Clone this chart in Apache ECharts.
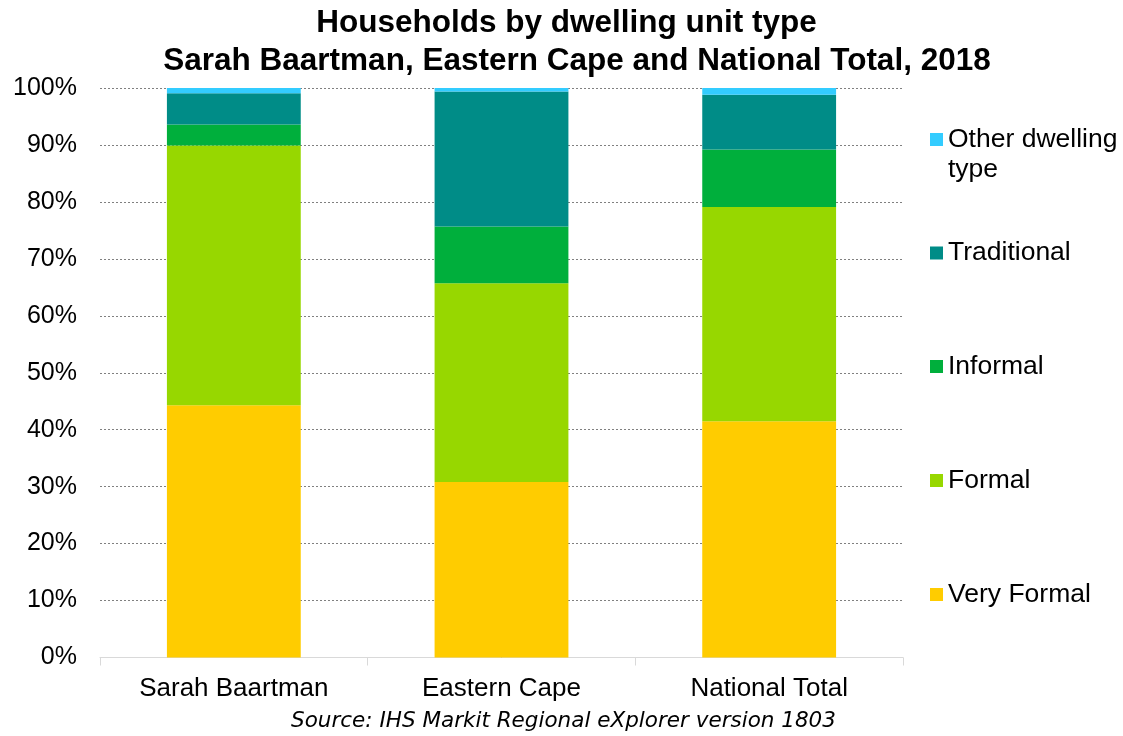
<!DOCTYPE html>
<html>
<head>
<meta charset="utf-8">
<script src="https://cdn.jsdelivr.net/npm/echarts@6/dist/echarts.min.js"></script>
<style>html,body{margin:0;padding:0;background:#fff}#c{width:1123px;height:736px}</style>
</head>
<body>
<div id="c"></div>
<script>
var categories = ['Sarah Baartman', 'Eastern Cape', 'National Total'];
var veryFormal = [44.3, 30.8, 41.5];
var formal = [45.6, 34.9, 37.6];
var informal = [3.7, 10.0, 10.1];
var traditional = [5.5, 23.7, 9.6];
var other = [0.9, 0.6, 1.2];
var seriesNames = ['Very Formal', 'Formal', 'Informal', 'Traditional', 'Other dwelling type'];
var seriesColors = ['#FFCC00', '#97D700', '#00AF3C', '#008C87', '#33CCFF'];
var seriesData = [veryFormal, formal, informal, traditional, other];
var titleLines = ['Households by dwelling unit type', 'Sarah Baartman, Eastern Cape and National Total, 2018'];
var sourceText = 'Source: IHS Markit Regional eXplorer version 1803';

var chart = echarts.init(document.getElementById('c'));
var font = 'Liberation Sans';

var legendTops = {'Other dwelling type': 94.5, 'Traditional': 238, 'Informal': 351.5, 'Formal': 465.5, 'Very Formal': 579.5};
var legends = seriesNames.map(function (n) {
  return {
    orient: 'vertical', left: 930, top: legendTops[n], padding: 0,
    itemWidth: 13, itemHeight: 13, itemGap: 8,
    selectedMode: false,
    data: [{name: n, icon: 'rect'}],
    formatter: function (name) { return name === 'Other dwelling type' ? '\nOther dwelling\ntype' : name; },
    textStyle: {fontFamily: font, fontSize: 26.5, color: '#000', lineHeight: 30}
  };
});

chart.setOption({
  animation: false,
  title: [{
    text: titleLines[0],
    left: 566.5, top: 5, textAlign: 'center', padding: 0,
    textStyle: {fontFamily: font, fontSize: 31.5, fontWeight: 'bold', color: '#000', lineHeight: 36}
  }, {
    text: titleLines[1],
    left: 577, top: 43, textAlign: 'center', padding: 0,
    textStyle: {fontFamily: font, fontSize: 31.5, fontWeight: 'bold', color: '#000', lineHeight: 36}
  }, {
    text: sourceText,
    left: 563.5, top: 709.5, textAlign: 'center', padding: 0,
    textStyle: {fontFamily: 'DejaVu Sans', fontSize: 21.5, fontStyle: 'italic', fontWeight: 'normal', color: '#000', lineHeight: 24}
  }],
  legend: legends,
  grid: {left: 100, right: 220, top: 88, bottom: 78.5},
  xAxis: {
    type: 'category', data: categories,
    axisLine: {lineStyle: {color: '#D9D9D9', width: 1}},
    axisTick: {show: true, length: 8, lineStyle: {color: '#D9D9D9'}},
    axisLabel: {fontFamily: font, fontSize: 26, color: '#000', margin: 18}
  },
  yAxis: {
    type: 'value', min: 0, max: 100, interval: 10,
    axisLine: {show: false}, axisTick: {show: false},
    axisLabel: {formatter: '{value}%', fontFamily: font, fontSize: 25, color: '#000', margin: 23},
    splitLine: {lineStyle: {color: '#808080', type: [2, 2], width: 1}}
  },
  series: seriesNames.map(function (n, i) {
    return {
      name: n, type: 'bar', stack: 'total', barWidth: '50%',
      data: seriesData[i],
      itemStyle: {color: seriesColors[i]}
    };
  })
});
</script>
</body>
</html>
